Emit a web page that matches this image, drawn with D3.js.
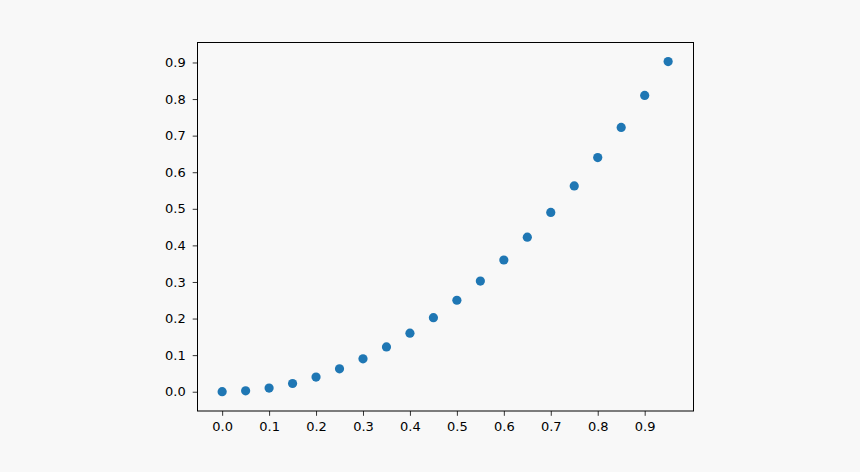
<!DOCTYPE html>
<html><head><meta charset="utf-8">
<script src="https://cdn.jsdelivr.net/npm/d3@7"></script>
<style>html,body{margin:0;padding:0;background:#f8f8f8;}svg{display:block;}</style>
</head><body>
<script>
const xValues = [0.0,0.05,0.1,0.15,0.2,0.25,0.3,0.35,0.4,0.45,0.5,0.55,0.6,0.65,0.7,0.75,0.8,0.85,0.9,0.95];
const yValues = [0.0,0.0025,0.01,0.0225,0.04,0.0625,0.09,0.1225,0.16,0.2025,0.25,0.3025,0.36,0.4225,0.49,0.5625,0.64,0.7225,0.81,0.9025];
const xTicks = [0.0,0.1,0.2,0.3,0.4,0.5,0.6,0.7,0.8,0.9];
const yTicks = [0.0,0.1,0.2,0.3,0.4,0.5,0.6,0.7,0.8,0.9];

const W=860,H=472;
const L=197.5,R=693.5,T=42.5,B=411;
const svg=d3.select("body").append("svg").attr("width",W).attr("height",H);
svg.append("rect").attr("width",W).attr("height",H).attr("fill","#f8f8f8");
const x=d3.scaleLinear().domain([-0.0525,1.004]).range([L,R]);
const y=d3.scaleLinear().domain([-0.0527,0.9546]).range([B,T]);

const fmt=d3.format(".1f");
const xa=svg.append("g").attr("transform",`translate(0,${B})`)
  .call(d3.axisBottom(x).tickValues(xTicks).tickFormat(fmt).tickSize(4.8).tickPadding(5.5));
const ya=svg.append("g").attr("transform",`translate(${L},0)`)
  .call(d3.axisLeft(y).tickValues(yTicks).tickFormat(fmt).tickSize(4.8).tickPadding(7));
[xa,ya].forEach(a=>{
  a.select(".domain").remove();
  a.selectAll("text").attr("font-family","DejaVu Sans").attr("font-size","13px").attr("fill","#000");
  a.selectAll("line").attr("stroke","#000").attr("stroke-width",0.8);
});

svg.append("g").selectAll("circle").data(xValues).join("circle")
  .attr("cx",d=>x(d)).attr("cy",(d,i)=>y(yValues[i])).attr("r",4.6).attr("fill","#1f77b4");

svg.append("rect").attr("x",L).attr("y",T).attr("width",R-L).attr("height",B-T)
  .attr("fill","none").attr("stroke","#000").attr("stroke-width",1);
</script>
</body></html>
